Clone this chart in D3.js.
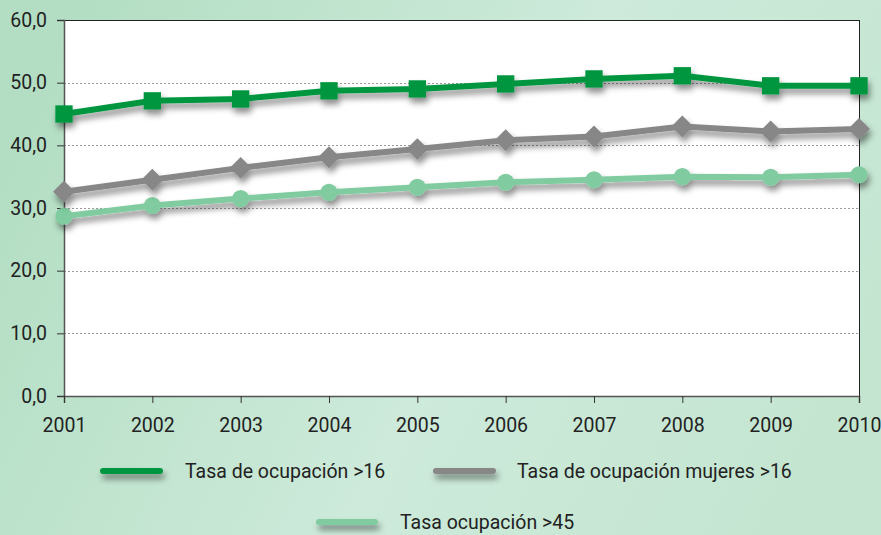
<!DOCTYPE html>
<html><head><meta charset="utf-8">
<script src="https://cdn.jsdelivr.net/npm/d3@7"></script>
<style>html,body{margin:0;padding:0;}svg{display:block;font-family:Roboto,"DejaVu Sans",sans-serif;}</style>
</head><body>
<svg id="c" width="881" height="535"></svg>
<script>
const years = ["2001","2002","2003","2004","2005","2006","2007","2008","2009","2010"];
const tasa16 = [45.0, 47.1, 47.4, 48.7, 49.0, 49.8, 50.6, 51.1, 49.5, 49.5];
const mujeres16 = [32.6, 34.5, 36.4, 38.1, 39.4, 40.8, 41.4, 43.0, 42.2, 42.6];
const tasa45 = [28.7, 30.4, 31.5, 32.5, 33.3, 34.1, 34.5, 35.0, 34.9, 35.3];
const yTicks = [0, 10, 20, 30, 40, 50, 60];
const seriesNames = ["Tasa de ocupación >16", "Tasa de ocupación mujeres >16", "Tasa ocupación >45"];

const FS = 19.5;
const svg = d3.select("#c");
const defs = svg.append("defs");
const bg = defs.append("linearGradient").attr("id","bg").attr("x1","0").attr("y1","0.3").attr("x2","1").attr("y2","0.6");
bg.append("stop").attr("offset","0").attr("stop-color","#b3dec3");
bg.append("stop").attr("offset","0.55").attr("stop-color","#cdeada");
bg.append("stop").attr("offset","1").attr("stop-color","#c4e6d1");
const sh = defs.append("filter").attr("id","sh").attr("filterUnits","userSpaceOnUse")
  .attr("x",0).attr("y",0).attr("width",881).attr("height",535);
sh.append("feDropShadow").attr("dx",2).attr("dy",5).attr("stdDeviation",3).attr("flood-color","#000").attr("flood-opacity",0.45);

svg.append("rect").attr("width",881).attr("height",535).attr("fill","url(#bg)");

const L=64, R=859, T=20, B=396;
const x = d3.scalePoint().domain(years).range([L,R]);
const y = d3.scaleLinear().domain([0,60]).range([B,T]);

svg.append("rect").attr("x",L).attr("y",T).attr("width",R-L).attr("height",B-T).attr("fill","#fff");

// gridlines
svg.append("g").selectAll("line").data(yTicks.filter(d=>d>0&&d<60)).join("line")
  .attr("x1",L).attr("x2",R).attr("y1",d=>Math.round(y(d))+0.5).attr("y2",d=>Math.round(y(d))+0.5)
  .attr("stroke","#9a9a9a").attr("stroke-width",1).attr("stroke-dasharray","2,2");

// top and right border
svg.append("line").attr("x1",L).attr("x2",R).attr("y1",T+0.5).attr("y2",T+0.5).attr("stroke","#222").attr("stroke-width",1);
svg.append("line").attr("x1",R+0.5).attr("x2",R+0.5).attr("y1",T).attr("y2",B).attr("stroke","#222").attr("stroke-width",1);

// axes
const yAxis = d3.axisLeft(y).tickValues(yTicks).tickSize(7).tickPadding(10).tickFormat(d=>d3.format(".1f")(d).replace(".",","));
const gy = svg.append("g").attr("transform",`translate(${L},0)`).call(yAxis);
gy.attr("font-size",FS).attr("font-family","Roboto");
gy.select(".domain").attr("stroke","#555").attr("stroke-width",1.5);
gy.selectAll(".tick line").attr("stroke","#333");
gy.selectAll("text").attr("fill","#222");

const xAxis = d3.axisBottom(x).tickSize(7).tickPadding(15);
const gx = svg.append("g").attr("transform",`translate(0,${B})`).call(xAxis);
gx.attr("font-size",FS).attr("font-family","Roboto");
gx.select(".domain").attr("stroke","#555").attr("stroke-width",1.5);
gx.selectAll(".tick line").attr("stroke","#333");
gx.selectAll("text").attr("fill","#222");

const series = [
  {name: seriesNames[0], values: tasa16, color:"#009640", shape:"square"},
  {name: seriesNames[1], values: mujeres16, color:"#878787", shape:"diamond"},
  {name: seriesNames[2], values: tasa45, color:"#80cca0", shape:"circle"}
];
const line = d3.line().x((d,i)=>x(years[i])).y(d=>y(d));

[...series].reverse().forEach(s=>{
  const g = svg.append("g").attr("filter","url(#sh)");
  g.append("path").attr("d",line(s.values)).attr("fill","none").attr("stroke",s.color).attr("stroke-width",6).attr("stroke-linejoin","round");
  const sym = s.shape==="square" ? d3.symbol(d3.symbolSquare, 300)
            : s.shape==="diamond" ? d3.symbol(d3.symbolSquare, 240)
            : d3.symbol(d3.symbolCircle, 230);
  g.selectAll("path.m").data(s.values).join("path").attr("class","m")
    .attr("d",sym)
    .attr("transform",(d,i)=>`translate(${x(years[i])},${y(d)})` + (s.shape==="diamond"?" rotate(45)":""))
    .attr("fill",s.color);
});

// legend
const leg = [
  {x1:103, x2:160, ty:471, tx:185, s:series[0]},
  {x1:436, x2:493, ty:471, tx:517, s:series[1]},
  {x1:319, x2:375, ty:522, tx:400, s:series[2]}
];
leg.forEach(l=>{
  svg.append("line").attr("x1",l.x1).attr("x2",l.x2).attr("y1",l.ty).attr("y2",l.ty)
    .attr("stroke",l.s.color).attr("stroke-width",6).attr("stroke-linecap","round").attr("filter","url(#sh)");
  svg.append("text").attr("x",l.tx).attr("y",l.ty).attr("dy","0.36em").attr("font-size",FS).attr("fill","#222").text(l.s.name);
});
</script>
</body></html>
